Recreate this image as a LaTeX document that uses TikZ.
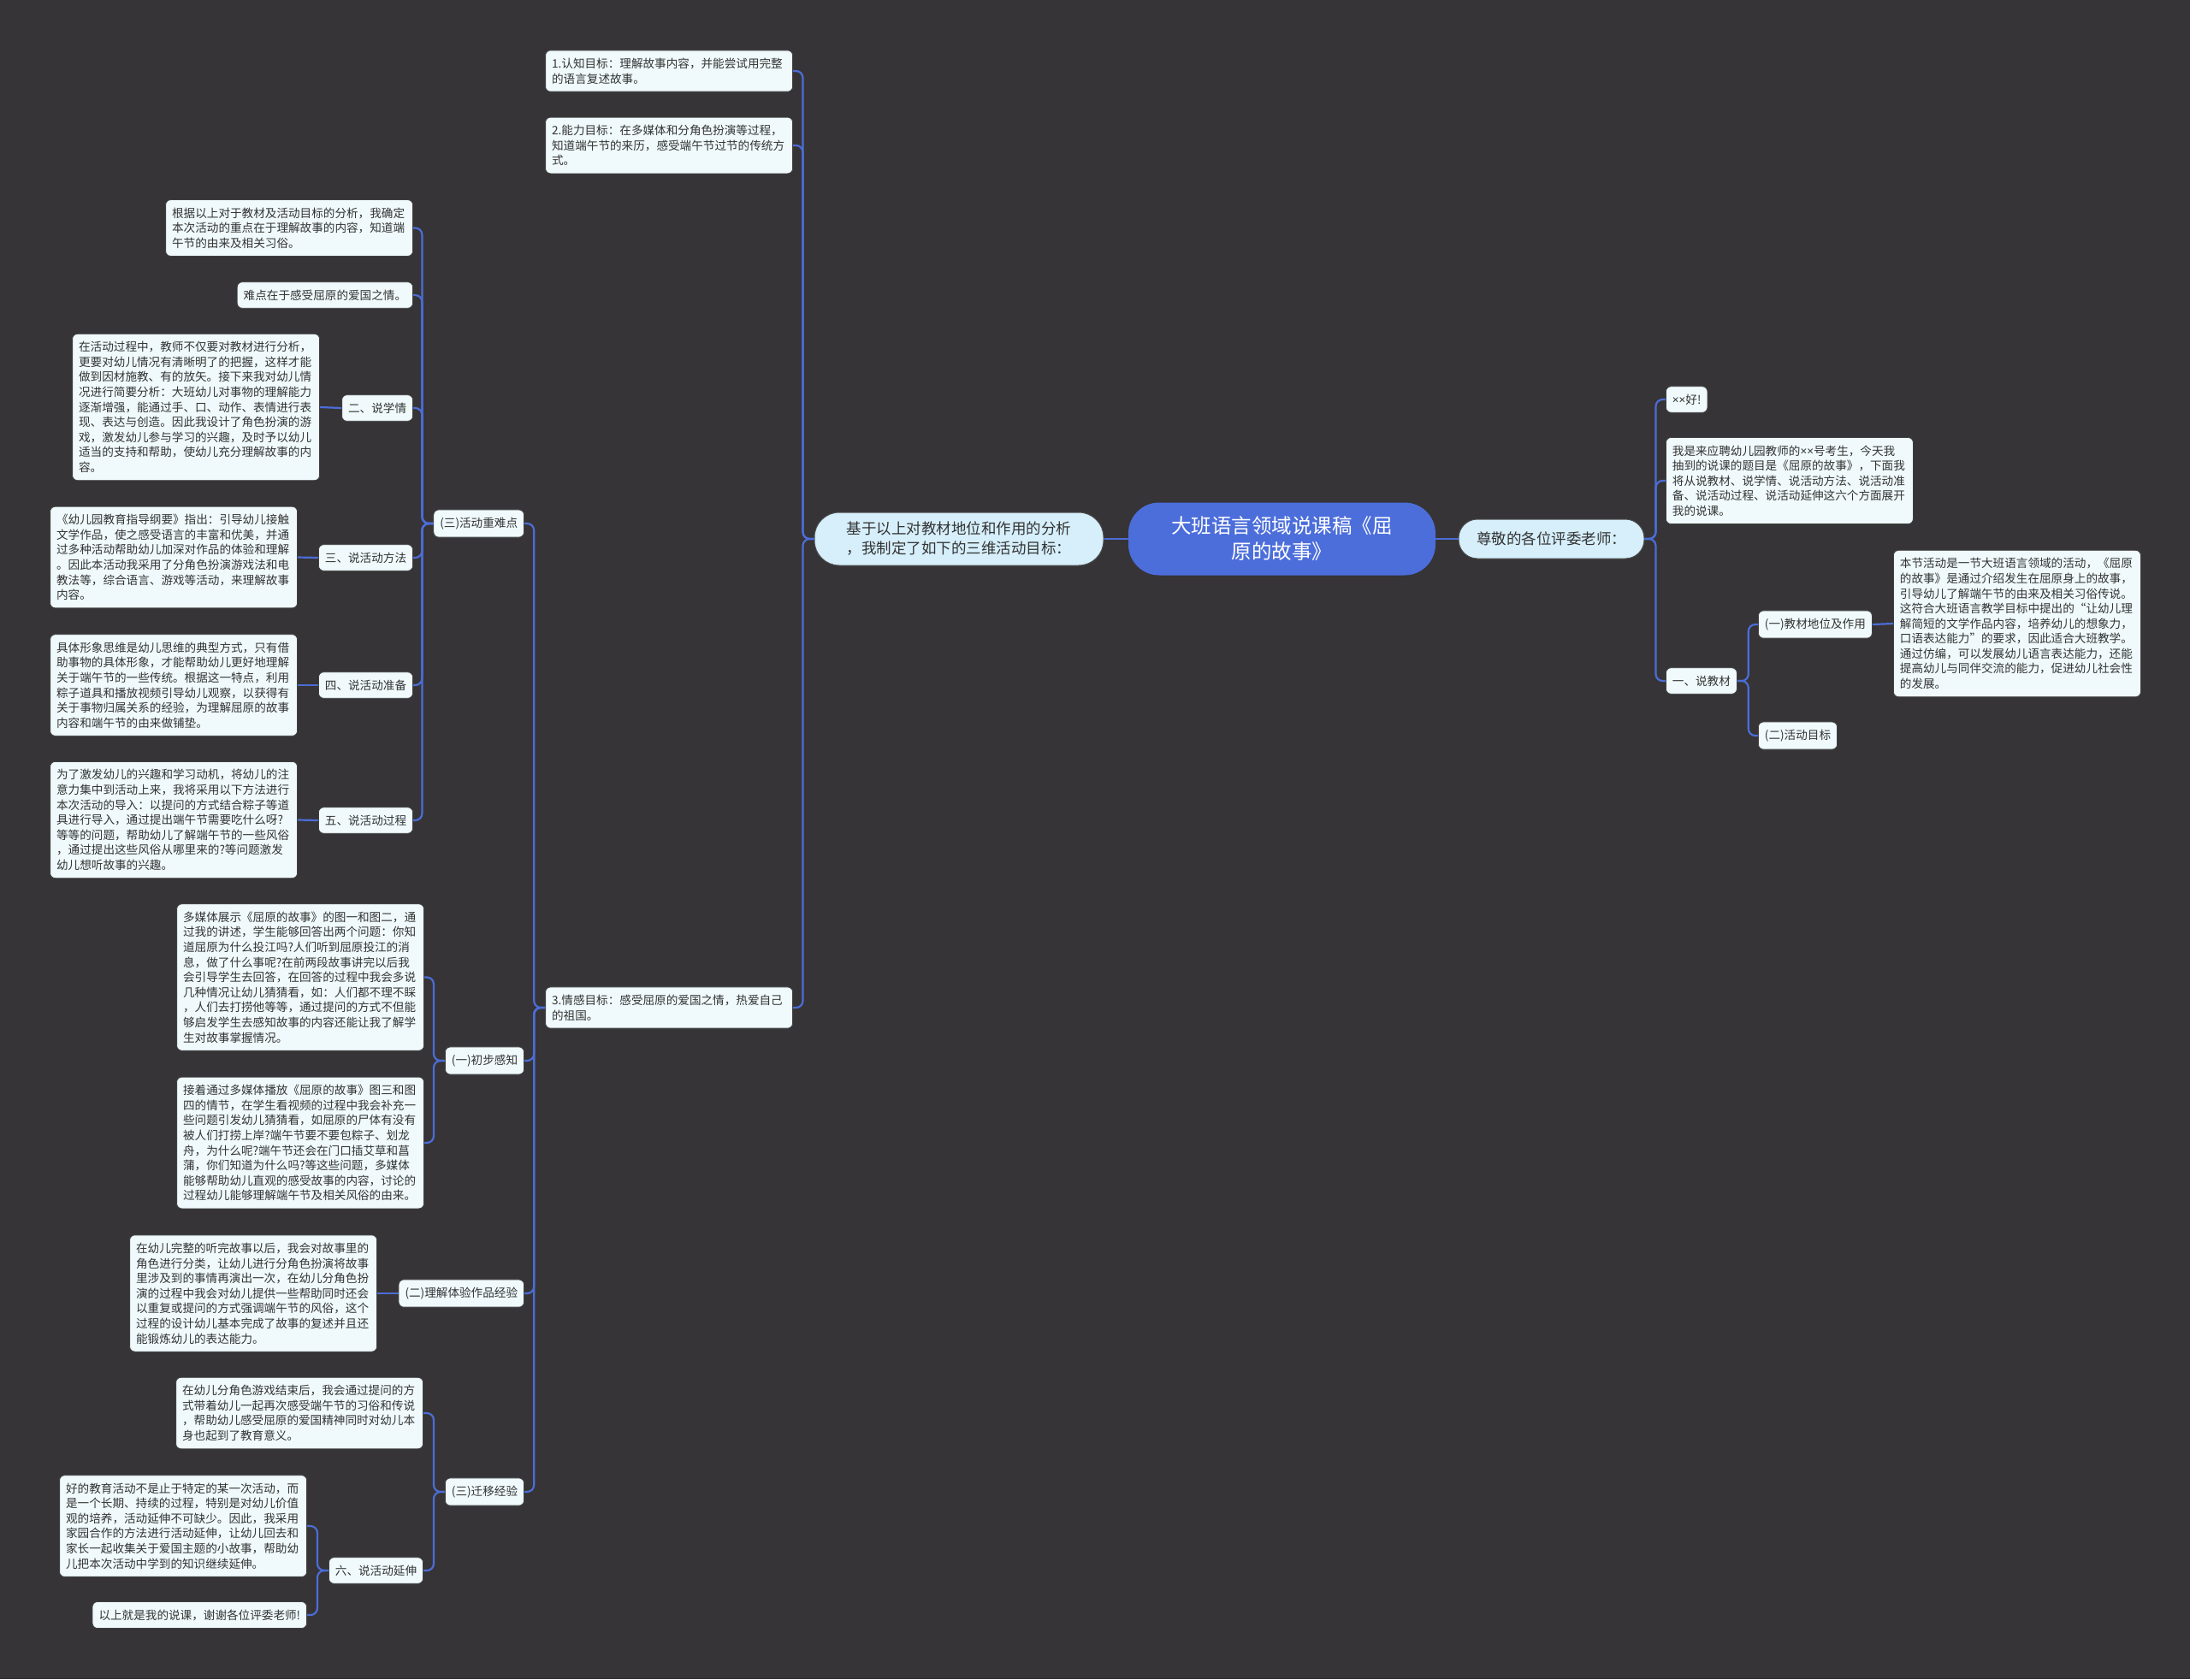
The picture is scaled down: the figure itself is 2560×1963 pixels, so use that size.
\documentclass[tikz,border=0pt]{standalone}
\usepackage{fontspec}
\setmainfont{Noto Sans CJK SC}
\newfontfamily\latinf{Noto Sans}
\newcommand{\mytimes}{{\latinf ×}}
\definecolor{bgc}{HTML}{363436}
\definecolor{connc}{HTML}{4C6DD8}
\definecolor{leafc}{HTML}{F0FAFC}
\definecolor{pillc}{HTML}{D6EFFB}
\definecolor{hubc}{HTML}{4C6EDB}
\definecolor{txtc}{HTML}{333333}
\tikzset{
  every node/.style={font=\fontsize{13.6}{17.6}\selectfont, text=txtc},
  box/.style={draw=black!75, line width=0.8pt, fill=leafc, rounded corners=6pt,
    inner xsep=7.5pt, inner ysep=9pt, align=left},
  para/.style={box, text width=274pt},
  lbl/.style={box},
  pill/.style={draw=black!70, line width=1pt, fill=pillc, align=center,
    font=\fontsize{17.5}{23}\selectfont, inner sep=4pt},
  hub/.style={fill=hubc, draw=none, rounded corners=36pt, align=center, text=white,
    minimum width=359pt, minimum height=85pt, font=\fontsize{23.5}{30}\selectfont},
  link/.style={draw=connc, line width=2.2pt, rounded corners=8pt},
}
\begin{document}
\begin{tikzpicture}[x=1pt,y=-1pt]
\fill[bgc] (0,0) rectangle (2560,1963);
\useasboundingbox (0,0) rectangle (2560,1963);

% centre and first level
\node[hub] (root) at (1498.5,630) {大班语言领域说课稿《屈\\原的故事》};
\node[pill, rounded corners=29pt, minimum width=338pt, minimum height=62pt] (goals) at (1121,630)
  {基于以上对教材地位和作用的分析\\，我制定了如下的三维活动目标：};
\node[pill, rounded corners=22pt, minimum width=217pt, minimum height=46pt] (greet) at (1813.5,630)
  {尊敬的各位评委老师：};

% goals
\node[para, anchor=east] (g1) at (927,83) {1.认知目标：理解故事内容，并能尝试用完整\\的语言复述故事。};
\node[para, anchor=east] (g2) at (927,170) {2.能力目标：在多媒体和分角色扮演等过程，\\知道端午节的来历，感受端午节过节的传统方\\式。};
\node[para, anchor=east] (g3) at (927,1178) {3.情感目标：感受屈原的爱国之情，热爱自己\\的祖国。};

% children of g3
\node[lbl, anchor=east] (zd) at (613,612) {(三)活动重难点};
\node[lbl, anchor=east] (cb) at (613,1240) {(一)初步感知};
\node[lbl, anchor=east] (lj) at (613,1512) {(二)理解体验作品经验};
\node[lbl, anchor=east] (qy) at (613,1744) {(三)迁移经验};

% children of zd
\node[para, anchor=east] (gj) at (483,266.5) {根据以上对于教材及活动目标的分析，我确定\\本次活动的重点在于理解故事的内容，知道端\\午节的由来及相关习俗。};
\node[lbl, anchor=east] (nd) at (483,345) {难点在于感受屈原的爱国之情。};
\node[lbl, anchor=east] (xq) at (483,477) {二、说学情};
\node[para, anchor=east] (xqt) at (374,476) {在活动过程中，教师不仅要对教材进行分析，\\更要对幼儿情况有清晰明了的把握，这样才能\\做到因材施教、有的放矢。接下来我对幼儿情\\况进行简要分析：大班幼儿对事物的理解能力\\逐渐增强，能通过手、口、动作、表情进行表\\现、表达与创造。因此我设计了角色扮演的游\\戏，激发幼儿参与学习的兴趣，及时予以幼儿\\适当的支持和帮助，使幼儿充分理解故事的内\\容。};
\node[lbl, anchor=east] (ff) at (483,652) {三、说活动方法};
\node[para, anchor=east] (fft) at (348,651.5) {《幼儿园教育指导纲要》指出：引导幼儿接触\\文学作品，使之感受语言的丰富和优美，并通\\过多种活动帮助幼儿加深对作品的体验和理解\\。因此本活动我采用了分角色扮演游戏法和电\\教法等，综合语言、游戏等活动，来理解故事\\内容。};
\node[lbl, anchor=east] (zb) at (483,801) {四、说活动准备};
\node[para, anchor=east] (zbt) at (348,801) {具体形象思维是幼儿思维的典型方式，只有借\\助事物的具体形象，才能帮助幼儿更好地理解\\关于端午节的一些传统。根据这一特点，利用\\粽子道具和播放视频引导幼儿观察，以获得有\\关于事物归属关系的经验，为理解屈原的故事\\内容和端午节的由来做铺垫。};
\node[lbl, anchor=east] (gc) at (483,959) {五、说活动过程};
\node[para, anchor=east] (gct) at (348,958.5) {为了激发幼儿的兴趣和学习动机，将幼儿的注\\意力集中到活动上来，我将采用以下方法进行\\本次活动的导入：以提问的方式结合粽子等道\\具进行导入，通过提出端午节需要吃什么呀?\\等等的问题，帮助幼儿了解端午节的一些风俗\\，通过提出这些风俗从哪里来的?等问题激发\\幼儿想听故事的兴趣。};

% children of cb
\node[para, anchor=east] (cb1) at (496,1142.5) {多媒体展示《屈原的故事》的图一和图二，通\\过我的讲述，学生能够回答出两个问题：你知\\道屈原为什么投江吗?人们听到屈原投江的消\\息，做了什么事呢?在前两段故事讲完以后我\\会引导学生去回答，在回答的过程中我会多说\\几种情况让幼儿猜猜看，如：人们都不理不睬\\，人们去打捞他等等，通过提问的方式不但能\\够启发学生去感知故事的内容还能让我了解学\\生对故事掌握情况。};
\node[para, anchor=east] (cb2) at (496,1336) {接着通过多媒体播放《屈原的故事》图三和图\\四的情节，在学生看视频的过程中我会补充一\\些问题引发幼儿猜猜看，如屈原的尸体有没有\\被人们打捞上岸?端午节要不要包粽子、划龙\\舟，为什么呢?端午节还会在门口插艾草和菖\\蒲，你们知道为什么吗?等这些问题，多媒体\\能够帮助幼儿直观的感受故事的内容，讨论的\\过程幼儿能够理解端午节及相关风俗的由来。};

% child of lj
\node[para, anchor=east] (lj1) at (441,1512) {在幼儿完整的听完故事以后，我会对故事里的\\角色进行分类，让幼儿进行分角色扮演将故事\\里涉及到的事情再演出一次，在幼儿分角色扮\\演的过程中我会对幼儿提供一些帮助同时还会\\以重复或提问的方式强调端午节的风俗，这个\\过程的设计幼儿基本完成了故事的复述并且还\\能锻炼幼儿的表达能力。};

% children of qy
\node[para, anchor=east] (qy1) at (495,1652) {在幼儿分角色游戏结束后，我会通过提问的方\\式带着幼儿一起再次感受端午节的习俗和传说\\，帮助幼儿感受屈原的爱国精神同时对幼儿本\\身也起到了教育意义。};
\node[lbl, anchor=east] (ys) at (495,1836) {六、说活动延伸};
\node[para, anchor=east] (ys1) at (359,1784) {好的教育活动不是止于特定的某一次活动，而\\是一个长期、持续的过程，特别是对幼儿价值\\观的培养，活动延伸不可缺少。因此，我采用\\家园合作的方法进行活动延伸，让幼儿回去和\\家长一起收集关于爱国主题的小故事，帮助幼\\儿把本次活动中学到的知识继续延伸。};
\node[lbl, anchor=east] (ys2) at (359,1888) {以上就是我的说课，谢谢各位评委老师!};

% right side
\node[lbl, anchor=west] (hi) at (1947,467) {\mytimes\mytimes 好!};
\node[para, anchor=west] (me) at (1947,562) {我是来应聘幼儿园教师的\mytimes\mytimes 号考生，今天我\\抽到的说课的题目是《屈原的故事》，下面我\\将从说教材、说学情、说活动方法、说活动准\\备、说活动过程、说活动延伸这六个方面展开\\我的说课。};
\node[lbl, anchor=west] (jc) at (1947,796) {一、说教材};
\node[lbl, anchor=west] (dw) at (2055,730) {(一)教材地位及作用};
\node[para, anchor=west] (dwt) at (2213,729) {本节活动是一节大班语言领域的活动，《屈原\\的故事》是通过介绍发生在屈原身上的故事，\\引导幼儿了解端午节的由来及相关习俗传说。\\这符合大班语言教学目标中提出的“让幼儿理\\解简短的文学作品内容，培养幼儿的想象力，\\口语表达能力”的要求，因此适合大班教学。\\通过仿编，可以发展幼儿语言表达能力，还能\\提高幼儿与同伴交流的能力，促进幼儿社会性\\的发展。};
\node[lbl, anchor=west] (mb) at (2055,860) {(二)活动目标};

% connectors
\draw[link] (root.west) -- (goals.east);
\draw[link] (root.east) -- (greet.west);
\foreach \c in {g1,g2,g3} \draw[link] (goals.west) -- ++(-13,0) |- (\c.east);
\foreach \c in {zd,cb,lj,qy} \draw[link] (g3.west) -- ++(-13,0) |- (\c.east);
\foreach \c in {gj,nd,xq,ff,zb,gc} \draw[link] (zd.west) -- ++(-13,0) |- (\c.east);
\draw[link] (xq.west) -- (xqt.east);
\draw[link] (ff.west) -- (fft.east);
\draw[link] (zb.west) -- (zbt.east);
\draw[link] (gc.west) -- (gct.east);
\foreach \c in {cb1,cb2} \draw[link] (cb.west) -- ++(-13,0) |- (\c.east);
\draw[link] (lj.west) -- (lj1.east);
\foreach \c in {qy1,ys} \draw[link] (qy.west) -- ++(-13,0) |- (\c.east);
\foreach \c in {ys1,ys2} \draw[link] (ys.west) -- ++(-13,0) |- (\c.east);
\foreach \c in {hi,me,jc} \draw[link] (greet.east) -- ++(13,0) |- (\c.west);
\foreach \c in {dw,mb} \draw[link] (jc.east) -- ++(13,0) |- (\c.west);
\draw[link] (dw.east) -- (dwt.west);
\end{tikzpicture}
\end{document}
